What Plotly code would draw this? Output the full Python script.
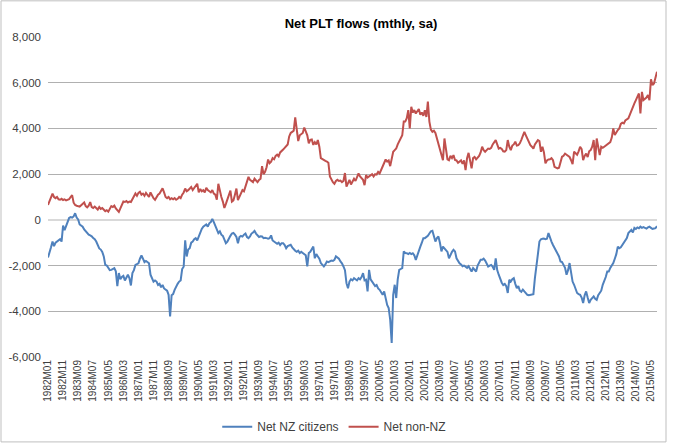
import plotly.graph_objects as go

# Monthly categories 1982M01 .. 2015M09
start_year = 1982
n_months = 405
categories = [f"{start_year + i // 12}M{i % 12 + 1:02d}" for i in range(n_months)]
tick_labels = categories[::10]

y_tick_values = [-6000, -4000, -2000, 0, 2000, 4000, 6000, 8000]
y_tick_labels = ["-6,000", "-4,000", "-2,000", "0", "2,000", "4,000", "6,000", "8,000"]

net_nz_citizens = [
    -1650, -1350, -1200, -950, -1150, -1000, -950, -900, -850, -950, -250, -450,   # 1982
    -300, -100, 80, 120, 100, 150, 290, 100, 20, -200, -250, -300,                 # 1983
    -420, -500, -620, -650, -680, -720, -800, -850, -950, -1100, -1250, -1300,     # 1984
    -1400, -1600, -1970, -2000, -2110, -2200, -2190, -2150, -2110, -2250, -2900, -2330,  # 1985
    -2600, -2500, -2450, -2650, -2500, -2400, -2550, -2870, -2330, -2200, -1970, -1950,  # 1986
    -1900, -1700, -1560, -1700, -1850, -1800, -1850, -1900, -2400, -2600, -2700, -2650,  # 1987
    -2700, -2850, -2800, -2950, -2850, -3000, -3060, -3100, -3280, -4230, -3300, -3250,  # 1988
    -3060, -2900, -2800, -2700, -2650, -2150, -2050, -900, -1600, -1300, -1240, -1000,   # 1989
    -950, -850, -800, -900, -700, -600, -400, -300, -250, -200, -300, -150,        # 1990
    -100, 40, -100, -290, -450, -580, -500, -650, -700, -850, -1020, -950,         # 1991
    -800, -700, -600, -570, -650, -750, -1020, -750, -700, -730, -650, -600,       # 1992
    -750, -800, -730, -600, -550, -480, -600, -700, -750, -720, -730, -800,        # 1993
    -780, -800, -820, -800, -680, -900, -950, -1000, -1050, -1000, -1100, -1020,   # 1994
    -1020, -1100, -1240, -1150, -1100, -1090, -1200, -1300, -1350, -1400, -1350, -1450,  # 1995
    -1400, -1450, -1500, -1550, -2040, -1450, -1400, -1300, -1170, -1680, -1500, -1600,  # 1996
    -1700, -1890, -1950, -2040, -1950, -1820, -1850, -1800, -1780, -1800, -1750, -1600,  # 1997
    -1650, -1700, -1820, -1900, -2040, -2200, -2770, -2990, -2700, -2600, -2650, -2550,  # 1998
    -2600, -2650, -2550, -2600, -2500, -2330, -2650, -2620, -3130, -2190, -2600, -2700,  # 1999
    -2800, -2900, -2850, -3000, -3060, -3150, -3280, -3130, -3500, -3720, -3860, -4370,  # 2000
    -5390, -3280, -2840, -3420, -2600, -2190, -2150, -2110, -1380, -1450, -1460, -1500,  # 2001
    -1450, -1500, -1460, -1550, -1750, -1530, -1350, -1170, -1000, -800, -800, -750,     # 2002
    -700, -600, -500, -480, -700, -950, -800, -730, -1000, -1380, -1170, -1250,    # 2003
    -1300, -1400, -1680, -1500, -1400, -1310, -1380, -1680, -1800, -1900, -1950, -2030,  # 2004
    -2000, -2050, -2100, -2030, -2150, -2260, -2110, -2200, -2260, -2000, -1850, -1750,  # 2005
    -1750, -1700, -1780, -1900, -2040, -2000, -1970, -2050, -2190, -1680, -2200, -2400,  # 2006
    -2600, -2750, -2850, -2800, -2900, -3200, -2620, -2700, -2600, -2550, -2800, -2990,  # 2007
    -2900, -3100, -3150, -3050, -3130, -3200, -3280, -3300, -3280, -3280, -3250, -2550,  # 2008
    -1890, -1500, -950, -850, -830, -820, -850, -830, -580, -800, -950, -1100,     # 2009
    -1240, -1350, -1450, -1600, -1820, -1850, -1970, -2100, -2400, -2200, -1890, -2300,  # 2010
    -2700, -2840, -3000, -3200, -3250, -3280, -3400, -3640, -3300, -3130, -3400, -3640,  # 2011
    -3500, -3400, -3350, -3450, -3500, -3300, -3200, -3100, -2840, -2700, -2500, -2260,  # 2012
    -2260, -2100, -2000, -1890, -1700, -1500, -1170, -1240, -1200, -1100, -1000, -950,   # 2013
    -800, -580, -500, -440, -550, -350, -400, -330, -370, -300, -350, -320,        # 2014
    -350, -380, -330, -300, -350, -400, -380, -360, -280,                          # 2015
]

net_non_nz = [
    650, 800, 950, 1150, 1000, 950, 1000, 900, 880, 920, 870, 900,        # 1982
    850, 880, 900, 1000, 1080, 750, 650, 620, 600, 580, 640, 700,         # 1983
    760, 600, 550, 620, 780, 560, 520, 580, 500, 450, 560, 480,           # 1984
    520, 430, 380, 420, 360, 480, 600, 560, 620, 500, 420, 350,           # 1985
    500, 620, 800, 780, 820, 760, 800, 780, 900, 1000, 1150, 1050,        # 1986
    1180, 1230, 1100, 1150, 1050, 1180, 1100, 1000, 1200, 1050, 950, 880, # 1987
    1000, 1100, 1150, 1250, 1380, 1200, 1000, 950, 1000, 900, 950, 900,   # 1988
    950, 880, 920, 1000, 950, 1100, 1200, 1370, 1250, 1300, 1380, 1440,   # 1989
    1300, 1400, 1450, 1580, 1200, 1350, 1250, 1300, 1200, 1400, 1300, 1250,  # 1990
    1200, 1300, 1150, 1100, 880, 1580, 1200, 1000, 800, 520, 700, 900,    # 1991
    1000, 1280, 800, 850, 1100, 1370, 860, 1000, 1200, 1300, 1250, 1440,  # 1992
    1600, 1880, 1750, 1700, 1650, 1800, 1700, 1650, 1750, 1800, 2350, 2000,  # 1993
    2100, 2300, 2640, 2480, 2550, 2700, 2650, 2800, 2850, 2780, 2950, 3000,  # 1994
    3080, 3150, 3250, 3300, 3650, 3800, 3850, 3900, 4480, 4000, 3450, 3700,  # 1995
    3750, 3800, 4040, 3900, 3700, 3350, 3500, 3520, 3280, 3400, 3300, 3490,  # 1996
    3200, 2700, 2650, 2600, 2580, 2550, 2500, 1900, 1750, 1650, 1580, 1700,  # 1997
    1750, 1700, 1720, 1650, 1700, 2050, 1450, 1600, 1750, 1550, 1650, 1800,  # 1998
    1700, 1850, 2030, 1900, 1800, 1750, 1520, 1960, 1850, 1900, 1950, 2000,  # 1999
    1900, 2000, 1980, 2100, 2030, 2200, 2320, 2450, 2640, 2550, 2600, 2350,  # 2000
    2700, 2980, 3050, 3120, 3300, 3450, 3600, 3700, 4300, 4300, 4450, 4800,  # 2001
    4000, 4950, 4700, 4800, 4650, 4750, 4850, 4600, 4700, 4550, 4800, 4500,  # 2002
    5170, 4300, 3950, 3850, 3900, 3800, 3560, 3300, 3000, 2800, 2610, 3560,  # 2003
    3000, 2650, 2610, 2800, 2700, 2830, 2620, 2600, 2500, 2550, 2600, 2450,  # 2004
    2600, 2180, 2700, 2930, 2500, 2250, 2700, 2750, 2650, 2720, 2800, 2950,  # 2005
    3200, 3050, 2980, 3050, 3120, 3100, 3150, 3300, 3400, 3490, 3300, 3120,  # 2006
    3150, 3100, 3000, 2980, 3050, 3490, 3200, 3050, 3250, 3300, 3420, 3250,  # 2007
    3270, 3350, 3500, 3650, 3850, 3700, 3560, 3400, 3270, 3200, 3120, 3300,  # 2008
    3400, 3490, 3450, 2980, 3200, 2950, 2470, 2600, 2640, 2650, 2700, 2610,  # 2009
    2320, 2300, 2250, 2280, 2500, 2760, 2800, 2900, 2850, 2800, 2750, 2610,  # 2010
    2440, 2980, 2900, 2850, 3000, 3200, 3100, 2610, 2800, 2900, 2750, 3000,  # 2011
    3050, 3200, 3490, 2610, 3560, 3100, 2830, 3200, 3150, 3200, 3250, 3300,  # 2012
    3340, 3400, 3600, 4000, 3710, 3850, 3930, 4000, 4200, 4250, 4220, 4350,  # 2013
    4400, 4440, 4600, 4800, 4900, 5100, 5240, 5400, 5530, 4660, 5600, 5240,  # 2014
    5300, 5350, 5460, 5240, 6150, 5900, 5970, 6200, 6480,                    # 2015
]

FONT = "Liberation Sans, Arial, sans-serif"

fig = go.Figure()
fig.add_trace(go.Scatter(
    x=categories[:len(net_nz_citizens)], y=net_nz_citizens, mode="lines",
    name="Net NZ citizens", line=dict(color="#4F81BD", width=2),
))
fig.add_trace(go.Scatter(
    x=categories[:len(net_non_nz)], y=net_non_nz, mode="lines",
    name="Net non-NZ", line=dict(color="#C0504D", width=2),
))

fig.update_layout(
    width=700, height=443,
    margin=dict(l=48, r=43, t=37, b=86, autoexpand=False),
    paper_bgcolor="white", plot_bgcolor="white",
    font=dict(family=FONT, size=11, color="#404040"),
    title=dict(text="<b>Net PLT flows (mthly, sa)</b>", x=0.514, xref="paper",
               xanchor="center", y=1 - 23 / 443, yanchor="middle", automargin=False,
               font=dict(family=FONT, size=13, color="#000000")),
    showlegend=True,
    legend=dict(orientation="h", x=0.47, xanchor="center", y=-0.218, yanchor="middle",
                font=dict(family=FONT, size=12, color="#404040"),
                bgcolor="rgba(0,0,0,0)", itemwidth=30, tracegroupgap=0),
    shapes=[dict(type="rect", xref="paper", yref="paper",
                 x0=(1 - 48) / 609, x1=(666 - 48) / 609,
                 y0=(357 - 442) / 320.3, y1=(357 - 0.5) / 320.3,
                 line=dict(color="#BFBFBF", width=1), fillcolor="rgba(0,0,0,0)",
                 layer="below")],
)

fig.update_xaxes(
    type="category", range=[0, n_months - 1], automargin=False,
    tickmode="array", tickvals=tick_labels, ticktext=tick_labels,
    tickangle=-90, tickfont=dict(family=FONT, size=10, color="#404040"),
    showgrid=False, showline=False, ticks="", zeroline=False,
)
fig.update_yaxes(
    range=[-6000, 8000], tickmode="array", tickvals=y_tick_values, ticktext=y_tick_labels,
    automargin=False,
    tickfont=dict(family=FONT, size=11.5, color="#404040"),
    showgrid=True, gridcolor="#B0B0B0", gridwidth=1,
    zeroline=True, zerolinecolor="#D9D9D9", zerolinewidth=2,
    showline=False, ticks="", ticklabelstandoff=6,
)

fig.write_html(
    "out.html",
    config={"displayModeBar": False},
    post_script="document.body.style.margin='0';document.body.style.overflow='hidden';",
)
